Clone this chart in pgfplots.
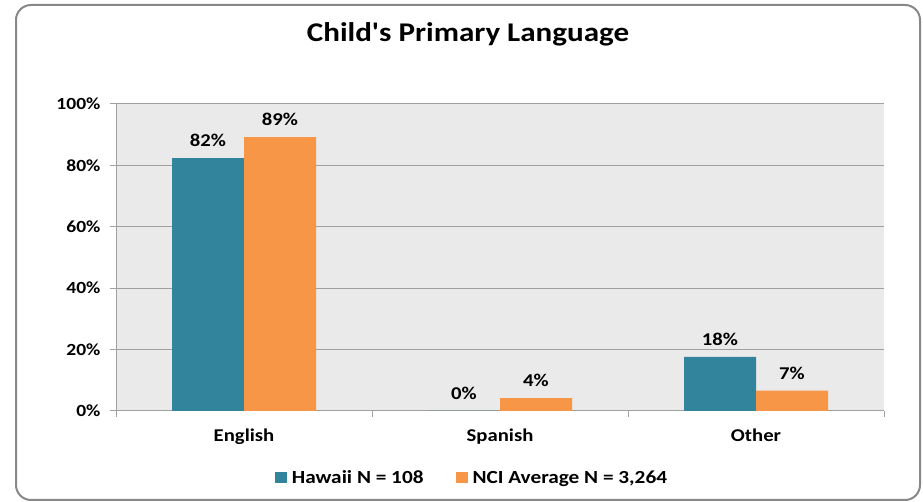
\documentclass[border=0pt]{standalone}
\usepackage{pgfplots}
\pgfplotsset{compat=1.18}
\usepackage{fontspec}
\setmainfont{Carlito}[FakeStretch=1.15]
\newfontfamily\titlefont{Carlito}[FakeStretch=1.15]
\definecolor{hawaii}{HTML}{31849B}
\definecolor{nci}{HTML}{F79646}
\definecolor{plotbg}{HTML}{EAEAEA}
\definecolor{gridgray}{HTML}{A0A0A0}
\definecolor{framegray}{HTML}{888888}
\begin{document}
\begin{tikzpicture}[x=1pt,y=1pt]
  \useasboundingbox (0,0) rectangle (923,502);
  \draw[framegray, line width=2pt, rounded corners=15pt] (16,2) rectangle (920,497);
  \node[font=\titlefont\bfseries\fontsize{27}{27}\selectfont] at (468,468) {Child's Primary Language};
  \begin{axis}[
      at={(116pt,91pt)}, anchor=south west,
      scale only axis,
      width=768pt, height=307pt,
      /pgf/number format/assume math mode=true,
      ybar=0pt,
      bar width=72pt,
      xmin=-0.5, xmax=2.5,
      ymin=0, ymax=100,
      xtick={0,1,2},
      xticklabels={English, Spanish, Other},
      minor xtick={-0.5,0.5,1.5,2.5},
      major x tick style={draw=none},
      minor tick length=6pt,
      ytick={0,20,40,60,80,100},
      yticklabel={\pgfmathprintnumber{\tick}\%},
      major tick length=6pt,
      tick align=outside,
      axis x line*=bottom,
      axis y line*=left,
      axis line style={gridgray, line width=1pt, -},
      every tick/.style={gridgray, line width=1pt},
      ymajorgrids,
      grid style={gridgray, line width=1pt},
      axis background/.style={fill=plotbg},
      yticklabel style={font=\bfseries\fontsize{17}{17}\selectfont, xshift=-6pt},
      xticklabel style={font=\bfseries\fontsize{18}{18}\selectfont, yshift=-8pt},
      nodes near coords={\pgfmathprintnumber[fixed,precision=0]{\pgfplotspointmeta}\%},
      nodes near coords style={font=\bfseries\fontsize{18}{18}\selectfont, black, yshift=8pt},
      legend style={at={(0.4635,-0.218)}, anchor=center, draw=none, fill=none,
        legend columns=2, font=\bfseries\fontsize{18.5}{18.5}\selectfont,
        /tikz/every odd column/.append style={column sep=3pt},
        /tikz/every even column/.append style={column sep=30pt}},
      legend image code/.code={\fill[#1] (0pt,-5pt) rectangle (12pt,6pt);},
    ]
    \addplot[fill=hawaii, draw=none] coordinates {(0,82.4) (1,0) (2,17.6)};
    \addplot[fill=nci, draw=none] coordinates {(0,89.2) (1,4.2) (2,6.6)};
    \legend{{Hawaii N = 108}, {NCI Average N = 3,264}}
  \end{axis}
\end{tikzpicture}
\end{document}
